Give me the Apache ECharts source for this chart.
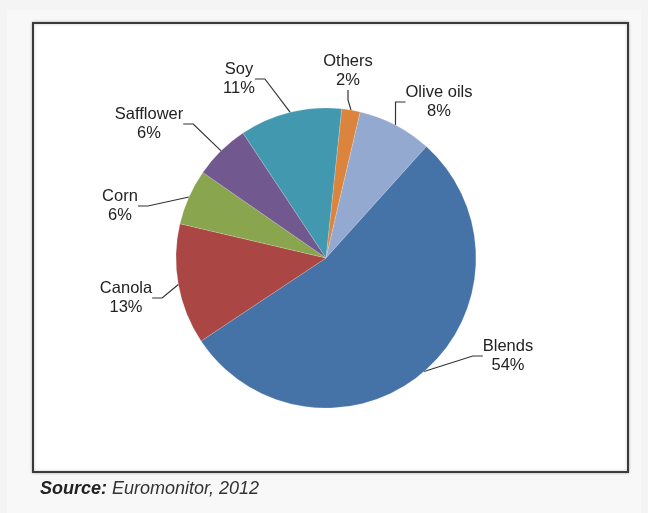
<!DOCTYPE html>
<html>
<head>
<meta charset="utf-8">
<script src="https://cdn.jsdelivr.net/npm/echarts@6/dist/echarts.min.js"></script>
<style>
  html, body { margin: 0; padding: 0; background: #f4f4f4; }
  #main { width: 648px; height: 513px; }
</style>
</head>
<body>
<div id="main"></div>
<script>
// oil market shares, clockwise from just right of 12 o'clock
const names = ['Others', 'Olive oils', 'Blends', 'Canola', 'Corn', 'Safflower', 'Soy']
const shares = [2, 8, 54, 13, 6, 6, 11]
const colors = ['#DB843D', '#93A9CF', '#4572A7', '#AA4643', '#89A54E', '#71588F', '#4198AF']

// where each label sits (centre of text block)
const labelSpots = {
    'Others': [348, 71],
    'Olive oils': [439, 102],
    'Blends': [508, 356],
    'Canola': [126, 298],
    'Corn': [120, 206],
    'Safflower': [149, 124],
    'Soy': [239, 79]
}

const chart = echarts.init(document.getElementById('main'), null, { renderer: 'canvas' })

const fontFam = '"Liberation Sans", Arial, sans-serif'

const option = {
    animation: false,
    graphic: [
        {
            type: 'rect',
            shape: { x: 7, y: 10, width: 634, height: 503 },
            style: { fill: '#f8f8f8' },
            z: -2
        },
        {
            type: 'rect',
            shape: { x: 33, y: 23, width: 595, height: 449 },
            style: { fill: '#ffffff', stroke: '#3a3a3a', lineWidth: 2, shadowBlur: 3, shadowColor: 'rgba(0,0,0,0.25)' },
            z: -1
        },
        {
            type: 'text',
            left: 40,
            top: 480,
            style: {
                text: '{b|Source:} Euromonitor, 2012',
                font: 'italic 18px ' + fontFam,
                fill: '#333',
                rich: {
                    b: { fontWeight: 'bold', fontStyle: 'italic', fontSize: 18, fontFamily: fontFam, fill: '#222' }
                }
            }
        }
    ],
    series: [{
        type: 'pie',
        center: [326, 258],
        radius: 150,
        startAngle: 84,
        clockwise: true,
        avoidLabelOverlap: false,
        itemStyle: { borderColor: 'rgba(255,255,255,0.35)', borderWidth: 0.5 },
        label: {
            show: true,
            position: 'outside',
            formatter: '{b}\n{c}%',
            color: '#222',
            fontSize: 16.5,
            lineHeight: 19,
            align: 'center',
            fontFamily: fontFam
        },
        labelLine: {
            show: true,
            length: 10,
            length2: 10,
            lineStyle: { color: '#333', width: 1.2 }
        },
        labelLayout: function (params) {
            const name = names[params.dataIndex]
            const p = labelSpots[name]
            return { x: p[0], y: p[1], align: 'center', verticalAlign: 'middle' }
        },
        data: names.map((n, i) => ({ name: n, value: shares[i], itemStyle: { color: colors[i] } }))
    }]
}

chart.setOption(option)
</script>
</body>
</html>
